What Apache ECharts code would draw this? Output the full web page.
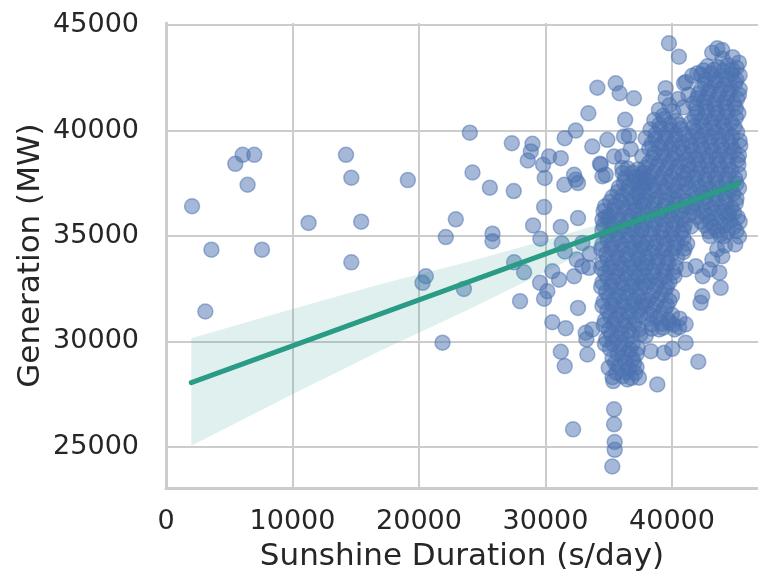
<!DOCTYPE html>
<html>
<head>
<meta charset="utf-8">
<script src="https://cdn.jsdelivr.net/npm/echarts@6/dist/echarts.min.js"></script>
<style>
html,body{margin:0;padding:0;background:#fff;}
#chart{width:758px;height:577px;}
</style>
</head>
<body>
<div id="chart"></div>
<script>
// ---- data (Sunshine Duration s/day, Generation MW) ----
const xTicks = [0, 10000, 20000, 30000, 40000];
const yTicks = [25000, 30000, 35000, 40000, 45000];

const sparsePoints = [
[2060,36410],[5480,38420],[6060,38850],[6980,38850],[6450,37430],[3590,34350],[7590,34350],[3110,31420],
[14230,38850],[14650,37760],[19120,37650],[11270,35620],[15430,35680],[14650,33750],
[24020,39900],[24230,38010],[25600,37290],[22910,35790],[22120,34950],[25810,35110],[25810,34750],
[20540,33090],[20280,32780],[23550,32490],[21860,29940],
[33390,40820],[27340,39400],[28970,39370],[28840,39010],[28600,38580],[30280,38770],[31210,38690],[29810,38380],[29940,37750],[31520,39640],[32390,40000],[33700,39240],[34310,38420],[32260,37900],[32570,37510],[31490,37430],[27490,37130],
[29020,35500],[29890,36370],[29600,34870],[31210,35430],[32570,35850],[31290,34640],[32910,34670],[33500,34160],[33440,33490],[32470,33880],[31520,34270],[30540,33330],[31070,32930],[32260,33090],[27520,33750],[28310,33280],[29570,32780],[30150,32380],[29890,32030],[27990,31910],[32570,31590],[30540,30910],[31600,30630],[33180,30410],[33700,30570],[33230,30100],[33310,29380],[31210,29510],[31520,28830],
[32180,25830],[35420,26780],[35420,26070],[35470,25230],[35470,24860],[35280,24070],
[38840,27960],[35360,28120],[36470,28200],[37390,28280],[42080,29040],[43850,32540],[42390,32140],[42260,31830],
[39760,44140],[40550,43500],[43580,43900],[43970,43820],[43180,43690],[45290,43220],[42010,42720],[40950,42240],[39500,42010],[39500,41530],[38970,40980],
[34100,42030],[35550,42240],[35860,41770],[36990,41530],[36300,40510],[36210,39720],[36600,39750],[37920,39640],[34890,39560],[35420,38770],[36070,38770],[36740,39120],[37650,38770],[34370,38380],[36070,38220],[34760,37900],
[32390,37670],[34500,37830],[34500,35780],[32920,33570],[34760,35900],
[44110,34990],[43580,34360],[43190,33880],[43980,34040],[42950,33410],[43740,33260],[41880,33570],[41080,33410],[42430,33090],[44500,36090],
[39780,30890],[40570,30670],[41080,30810],[38990,30570],[37920,30260],[41080,29940],[40020,29650],[38320,29540],[39370,29460],
[39300,40700],[40100,40900],[40900,41100],[41300,41700],[40500,41500],[39800,41200],[41100,42300],[41600,42600]
];

const rightCluster = [
[44000,43400],[44800,43480],
[42800,43050],[43650,43000],[44400,43100],[45100,42980],
[42500,42850],[43300,42870],[44050,42830],[44800,42860],
[42300,42650],[43100,42700],[43900,42600],[44700,42680],[45350,42620],
[42700,42420],[43500,42400],[44300,42440],[45100,42410],
[42600,42200],[43400,42250],[44200,42150],[45000,42230],
[42300,41980],[43050,42000],[43850,41960],[44650,41990],[45350,41970],
[42100,41750],[42900,41800],[43700,41720],[44500,41780],[45300,41700],
[42000,41520],[42750,41540],[43550,41500],[44350,41530],[45150,41510],
[41700,41300],[42500,41350],[43300,41260],[44100,41320],[44900,41280],
[41900,41080],[42650,41100],[43450,41060],[44250,41090],[45050,41070],
[42000,40850],[42800,40900],[43600,40820],[44400,40880],[45250,40830],
[41800,40630],[42600,40650],[43400,40610],[44200,40640],[45050,40620],
[41500,40400],[42300,40450],[43100,40370],[43900,40420],[44700,40380],
[41700,40170],[42500,40190],[43300,40150],[44100,40180],[44950,40160],
[41900,39950],[42700,40000],[43500,39920],[44300,39980],[45150,39930],
[41600,39720],[42350,39740],[43150,39700],[43950,39730],[44750,39710],
[41300,39500],[42100,39550],[42900,39470],[43700,39530],[44500,39480],[45350,39520],
[41500,39270],[42300,39290],[43100,39250],[43900,39280],[44700,39260],[45400,39280],
[41700,39050],[42500,39100],[43300,39020],[44100,39080],[44900,39030],
[41400,38820],[42150,38840],[42950,38800],[43750,38830],[44550,38810],[45300,38830],
[41100,38600],[41900,38650],[42700,38570],[43500,38630],[44300,38580],[45200,38620],
[41300,38370],[42050,38390],[42850,38350],[43650,38380],[44450,38360],[45250,38380],
[41500,38150],[42300,38200],[43100,38120],[43900,38180],[44700,38130],
[41200,37920],[42000,37940],[42800,37900],[43600,37930],[44450,37910],[45300,37930],
[41000,37700],[41800,37750],[42600,37670],[43400,37730],[44200,37680],[45000,37720],
[41100,37470],[41900,37490],[42700,37450],[43500,37480],[44300,37460],[45100,37480],
[41400,37250],[42200,37300],[43000,37220],[43800,37280],[44600,37230],[45300,37270],
[41700,37020],[42450,37040],[43250,37000],[44050,37030],[44850,37010],
[41900,36800],[42700,36850],[43500,36770],[44300,36830],[45100,36780],
[41900,36570],[42650,36590],[43450,36550],[44250,36580],[45050,36560],
[41600,36350],[42300,36400],[43100,36320],[43900,36380],[44700,36330],
[41700,36120],[42500,36140],[43300,36100],[44100,36130],[44900,36110],
[42000,35900],[42800,35950],[43600,35870],[44400,35930],[45200,35880],
[42300,35680],[43000,35700],[43800,35660],[44600,35690],[45350,35670],
[41500,35450],[42600,35500],[43300,35420],[44100,35480],[44900,35430],
[42900,35220],[43600,35240],[44400,35200],[45100,35230],
[43000,35000],[43800,35050],[45300,34980],
[44200,34550],[45000,34600]
];

const middleCluster = [
[38600,40500],[39400,40550],[40300,40470],
[39000,40280],[39800,40300],[40600,40260],
[38300,40050],[39100,40100],[39900,40020],[40700,40080],
[38700,39820],[39500,39840],[40300,39800],[41000,39830],
[38700,39600],[39500,39650],[40300,39570],
[38400,39370],[39200,39390],[40000,39350],[40800,39380],
[38200,39150],[39000,39200],[39800,39120],[40600,39180],
[38600,38920],[39400,38940],[40200,38900],[40900,38930],
[38500,38700],[39300,38750],[40100,38670],
[38200,38480],[39000,38500],[39800,38460],[40700,38490],
[37900,38250],[38800,38300],[39600,38220],[40400,38280],
[37800,38020],[38600,38040],[39400,38000],[40200,38030],[40900,38010],
[37500,37800],[38300,37850],[39100,37770],[39900,37830],
[37400,37570],[38200,37590],[39000,37550],[39800,37580],[40600,37560],
[37800,37350],[38600,37400],[39400,37320],[40200,37380],
[37800,37120],[38600,37140],[39400,37100],[40200,37130],[40900,37110],
[37400,36900],[38200,36950],[39000,36870],[39800,36930],[40500,36880],
[37900,36680],[38700,36700],[39500,36660],[40300,36690],[41100,36670],
[37800,36450],[38600,36500],[39400,36420],[40200,36480],[41000,36430],
[37600,36220],[38400,36240],[39200,36200],[40000,36230],[40800,36210],
[38100,36000],[38900,36050],[39700,35970],[40500,36030],[41300,35980],
[38400,35780],[39200,35800],[40000,35760],[40800,35790],
[37900,35550],[38700,35600],[39500,35520],[40300,35580],[41000,35530],
[37600,35320],[38500,35340],[39300,35300],[40100,35330],[40900,35310],
[38300,35100],[39100,35150],[39900,35070],[40700,35130],
[38500,34880],[39300,34900],[40100,34860],[40900,34890],
[38000,34650],[38800,34700],[39600,34620],[40400,34680],[41200,34630],
[37800,34420],[38600,34440],[39400,34400],[40200,34430],[41000,34410],
[38400,34200],[39200,34250],[40000,34170],[40900,34230],
[38000,33980],[38800,34000],[39600,33960],[40400,33990],
[38100,33750],[38900,33800],[39700,33720],
[37900,33520],[38700,33540],[39500,33500],[40300,33530],
[38500,33300],[39300,33350],[40100,33270],
[37800,33080],[38600,33100],[39400,33060],[40200,33090],
[38200,32850],[39000,32900],[39800,32820],
[37900,32620],[38800,32640],[39600,32600],
[38600,32400],[39400,32450],
[38400,32180],[39200,32200],[40000,32160],
[38100,31950],[38900,32000],[39800,31920],
[37900,31720],[38700,31740],[39600,31700],
[38500,31500],[39400,31550],
[38300,31280],[39100,31300],[40000,31260],
[38000,31050],[38800,31100],[39700,31020],[40600,31080],
[38400,30820],[39200,30840],[40100,30800],
[38400,30600],[39300,30650],[40200,30570]
];

const leftCluster = [
[36500,38200],[37300,38150],
[36100,37980],[36900,38000],[37700,37960],
[36300,37750],[37100,37800],[37900,37720],
[36200,37520],[37000,37540],[37800,37500],
[35800,37300],[36600,37350],[37400,37270],
[35700,37080],[36500,37100],[37300,37060],
[35300,36850],[36100,36900],[36900,36820],
[35100,36620],[35900,36640],[36700,36600],[37500,36630],
[34700,36400],[35500,36450],[36300,36370],[37100,36430],
[34600,36180],[35400,36200],[36200,36160],[37000,36190],
[35000,35950],[35800,36000],[36600,35920],[37400,35980],
[35000,35720],[35800,35740],[36600,35700],[37400,35730],
[34600,35500],[35400,35550],[36200,35470],[37000,35530],
[34500,35280],[35300,35300],[36100,35260],[36900,35290],[37600,35270],
[34900,35050],[35700,35100],[36500,35020],[37300,35080],
[34900,34820],[35700,34840],[36500,34800],[37300,34830],
[34500,34600],[35300,34650],[36100,34570],[36900,34630],[37600,34580],
[34400,34380],[35200,34400],[36000,34360],[36800,34390],[37500,34370],
[34800,34150],[35600,34200],[36400,34120],[37200,34180],
[34900,33920],[35700,33940],[36500,33900],[37300,33930],
[34500,33700],[35300,33750],[36100,33670],[36900,33730],[37600,33680],
[34400,33480],[35100,33500],[35900,33460],[36700,33490],[37500,33470],
[34700,33250],[35500,33300],[36300,33220],[37100,33280],
[34900,33020],[35700,33040],[36500,33000],[37300,33030],
[34500,32800],[35300,32850],[36100,32770],[36900,32830],[37700,32780],
[34400,32580],[35200,32600],[36000,32560],[36800,32590],[37500,32570],
[34800,32350],[35600,32400],[36400,32320],[37200,32380],
[35000,32120],[35800,32140],[36600,32100],[37400,32130],
[34600,31900],[35400,31950],[36200,31870],[37000,31930],[37700,31880],
[34500,31680],[35300,31700],[36100,31660],[36900,31690],[37600,31670],
[34900,31450],[35700,31500],[36500,31420],[37300,31480],
[35100,31220],[35900,31240],[36700,31200],[37500,31230],
[34700,31000],[35500,31050],[36300,30970],[37100,31030],
[34600,30780],[35400,30800],[36200,30760],[37000,30790],
[35000,30550],[35800,30600],[36600,30520],[37400,30580],
[35200,30320],[36000,30340],[36800,30300],[37500,30330],
[34800,30100],[35600,30150],[36400,30070],
[34700,29880],[35300,29900],[36100,29860],[36900,29890],
[35100,29650],[35900,29700],[36700,29620],[37300,29680],
[35700,29420],[36500,29440],[37200,29400],
[35300,29200],[36100,29250],[36900,29170],
[35500,28980],[36300,29000],[37000,28960],
[35000,28750],[35800,28800],[36600,28720],[37200,28780],
[35600,28520],[36400,28540],[37100,28500],
[35300,28300],[36100,28350],[36800,28270]
];

// regression fit line and its confidence band
const fitX = [2000, 45300];
const fitY = [28050, 37480];
const bandX = [2000, 10000, 17000, 24000, 30000, 35000, 40000, 45300];
const bandUpper = [30150, 31540, 32720, 33790, 34800, 35690, 36700, 37880];
const bandLower = [25050, 27490, 29570, 31540, 33300, 34820, 35950, 37080];

// ---- chart ----
const allPoints = sparsePoints.concat(leftCluster, middleCluster, rightCluster);
const FONT = 'DejaVu Sans';
const TXT = '#262626';
const GRID = '#cccccc';
const plain = v => String(v);

const chart = echarts.init(document.getElementById('chart'), null, {renderer: 'canvas'});
chart.setOption({
  animation: false,
  backgroundColor: '#ffffff',
  grid: {left: 166, right: 0, top: 23, bottom: 89, containLabel: false},
  xAxis: {
    type: 'value', min: 0, max: 46800,
    name: 'Sunshine Duration (s/day)', nameLocation: 'middle', nameGap: 53, nameMoveOverlap: false,
    nameTextStyle: {fontFamily: FONT, fontSize: 31, color: TXT},
    axisLine: {show: true, onZero: false, lineStyle: {color: GRID, width: 3}},
    axisTick: {show: false, customValues: xTicks},
    axisLabel: {customValues: xTicks, formatter: plain, fontFamily: FONT, fontSize: 27, color: TXT, margin: 20},
    splitLine: {show: true, lineStyle: {color: GRID, width: 2}}
  },
  yAxis: {
    type: 'value', min: 23050, max: 45100,
    name: 'Generation (MW)', nameLocation: 'middle', nameGap: 120, nameMoveOverlap: false,
    nameTextStyle: {fontFamily: FONT, fontSize: 31, color: TXT},
    axisLine: {show: true, onZero: false, lineStyle: {color: GRID, width: 3}},
    axisTick: {show: false, customValues: yTicks},
    axisLabel: {customValues: yTicks, formatter: plain, fontFamily: FONT, fontSize: 27, color: TXT, margin: 27},
    splitLine: {show: true, lineStyle: {color: GRID, width: 2}}
  },
  series: [
    {
      type: 'scatter', data: allPoints, symbol: 'circle', symbolSize: 15,
      itemStyle: {color: '#4c72b0', borderColor: '#4c72b0', borderWidth: 1.5, opacity: 0.5},
      z: 2
    },
    {
      type: 'custom', data: [[bandX[0], bandLower[0]]], z: 3, silent: true,
      renderItem: function (params, api) {
        const pts = [];
        for (let i = 0; i < bandX.length; i++) pts.push(api.coord([bandX[i], bandUpper[i]]));
        for (let i = bandX.length - 1; i >= 0; i--) pts.push(api.coord([bandX[i], bandLower[i]]));
        return {type: 'polygon', shape: {points: pts}, style: {fill: 'rgba(42,155,140,0.15)'}};
      }
    },
    {
      type: 'line', data: fitX.map((x, i) => [x, fitY[i]]), symbol: 'none',
      lineStyle: {color: '#2a9b84', width: 5, cap: 'round'}, z: 4
    }
  ]
});
</script>
</body>
</html>
